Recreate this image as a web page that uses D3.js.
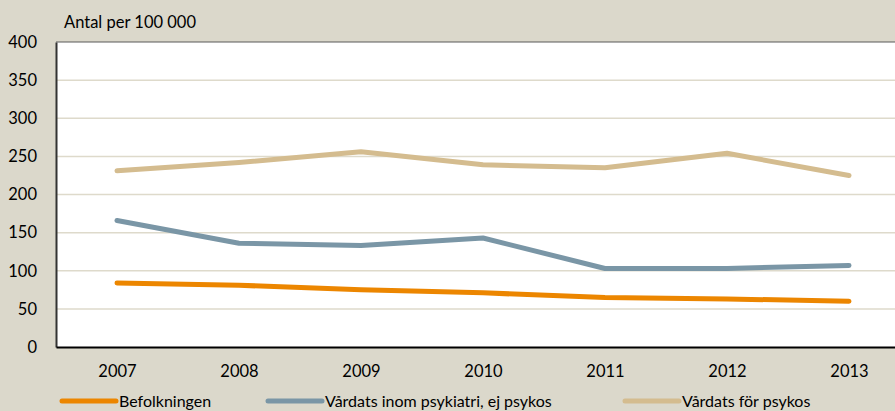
<!DOCTYPE html>
<html>
<head>
<meta charset="utf-8">
<script src="https://cdn.jsdelivr.net/npm/d3@7/dist/d3.min.js"></script>
<style>
  html, body { margin: 0; padding: 0; background: #DBD8CB; }
  svg { display: block; font-family: Lato, "Open Sans", sans-serif; }
</style>
</head>
<body>
<svg id="chart" width="895" height="411"></svg>
<script>
// Rates per 100 000 inhabitants, 2007–2013
const years = ["2007", "2008", "2009", "2010", "2011", "2012", "2013"];
const befolkningen = [84, 81, 75, 71, 65, 63, 60];
const ejPsykos = [166, 136, 133, 143, 103, 103, 107];
const psykos = [231, 242, 256, 239, 235, 254, 225];
const yTicks = [0, 50, 100, 150, 200, 250, 300, 350, 400];

const seriesNames = ["Befolkningen", "Vårdats inom psykiatri, ej psykos", "Vårdats för psykos"];
const seriesColors = ["#EC8600", "#7A96A6", "#D4BC8F"];
const series = [befolkningen, ejPsykos, psykos];

const FONT = "Lato, 'Open Sans', sans-serif";
const FS = 16.5;

const svg = d3.select("#chart");
const plot = { left: 56, top: 42, right: 910, bottom: 347 };

const x = d3.scalePoint().domain(years).range([plot.left, plot.right]).padding(0.5);
const y = d3.scaleLinear().domain([0, 400]).range([plot.bottom, plot.top]);

// plot background
svg.append("rect")
  .attr("x", plot.left).attr("y", plot.top)
  .attr("width", plot.right - plot.left).attr("height", plot.bottom - plot.top)
  .attr("fill", "#FFFFFF");

// horizontal grid
svg.append("g").selectAll("line").data(yTicks.filter(d => d > 0 && d < 400)).join("line")
  .attr("x1", plot.left).attr("x2", plot.right)
  .attr("y1", d => y(d)).attr("y2", d => y(d))
  .attr("stroke", "#DEDACB").attr("stroke-width", 1.5);

// top border
svg.append("line")
  .attr("x1", plot.left).attr("x2", plot.right)
  .attr("y1", plot.top).attr("y2", plot.top)
  .attr("stroke", "#5A5A5A").attr("stroke-width", 1.2);

// y axis
const yAxis = svg.append("g")
  .attr("transform", `translate(${plot.left},0)`)
  .call(d3.axisLeft(y).tickValues(yTicks).tickSize(0).tickPadding(19));
yAxis.select(".domain").attr("stroke", "#333").attr("stroke-width", 2);
yAxis.selectAll("text").attr("font-size", FS).attr("fill", "#000").attr("font-family", FONT);

// x axis
const xAxis = svg.append("g")
  .attr("transform", `translate(0,${plot.bottom})`)
  .call(d3.axisBottom(x).tickSize(0).tickPadding(18));
xAxis.select(".domain").attr("stroke", "#000").attr("stroke-width", 2);
xAxis.selectAll("text").attr("font-size", FS).attr("fill", "#000").attr("font-family", FONT);

// unit label
svg.append("text")
  .attr("x", 64).attr("y", 28)
  .attr("font-size", FS).attr("fill", "#000")
  .text("Antal per 100 000");

// series lines
const line = d3.line().x((d, i) => x(years[i])).y(d => y(d));
svg.append("g").selectAll("path").data(series).join("path")
  .attr("d", d => line(d))
  .attr("fill", "none")
  .attr("stroke", (d, i) => seriesColors[i])
  .attr("stroke-width", 5)
  .attr("stroke-linecap", "round")
  .attr("stroke-linejoin", "round");

// legend
const legendX = [62, 268, 625];
const legend = svg.append("g").selectAll("g").data(seriesNames).join("g")
  .attr("transform", (d, i) => `translate(${legendX[i]},401)`);
legend.append("line")
  .attr("x1", 0).attr("x2", 54).attr("y1", 0).attr("y2", 0)
  .attr("stroke", (d, i) => seriesColors[i])
  .attr("stroke-width", 5).attr("stroke-linecap", "round");
legend.append("text")
  .attr("x", 57).attr("y", 6)
  .attr("font-size", 16).attr("fill", "#000")
  .text(d => d);
</script>
</body>
</html>
